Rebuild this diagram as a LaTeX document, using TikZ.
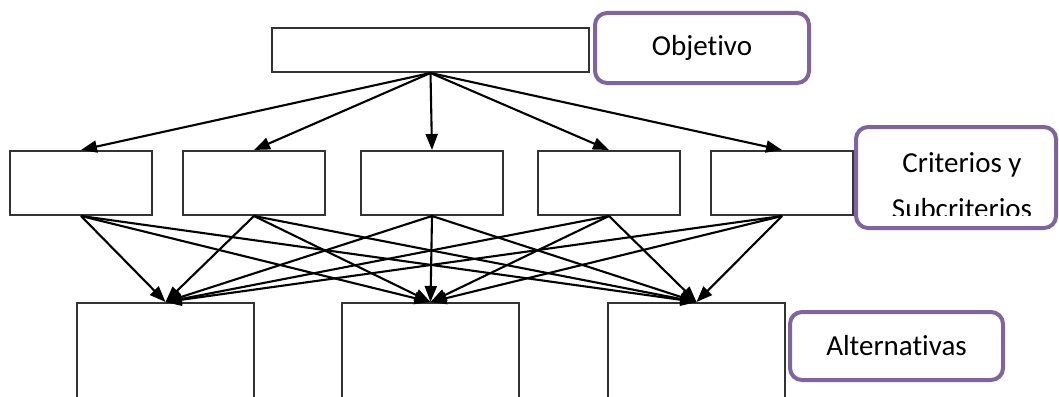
\documentclass[tikz,border=0pt]{standalone}
\usepackage{fontspec}
\setmainfont{Carlito}[Ligatures=NoCommon]
\usetikzlibrary{arrows.meta}
\definecolor{tagpurple}{RGB}{128,100,162}
\tikzset{
    blank/.style={draw=black!80,line width=2pt,inner sep=0pt,fill=white},
    tag/.style={draw=tagpurple,line width=4pt,rounded corners=12pt,inner sep=0pt,align=center,font=\fontsize{29}{46}\selectfont},
    link/.style={line width=2.1pt,-{Triangle[length=16pt,width=12pt]}}
}
\begin{document}
\begin{tikzpicture}[x=1pt,y=-1pt]
        \clip (0,0) rectangle (1059,396);
        %% Goal
        \node[blank,minimum width=317pt,minimum height=44pt] (goal) at (430.5,50) {};
        \node[tag,minimum width=214pt,minimum height=70pt] (goaltag) at (702,48) {Objetivo};
        %% Criteria
        \foreach \x/\n in {81/1,254/2,432/3,609/4,782/5}
            \node[blank,minimum width=142pt,minimum height=64pt] (c\n) at (\x,183) {};
        \node[tag,minimum width=200pt,minimum height=101pt] (crittag) at (956,177.5) {};
        \begin{scope}
            \clip (850,120) rectangle (1059,215);
            \node[font=\fontsize{29}{46}\selectfont,align=center,inner sep=0pt,anchor=north] (crittext) at (962,152) {Criterios y\\Subcriterios};
        \end{scope}
        %% Alternatives
        \foreach \x/\n in {165.5/1,430.5/2,696.5/3}
            \node[blank,minimum width=177pt,minimum height=200pt,anchor=north] (a\n) at (\x,302) {};
        \node[tag,minimum width=213pt,minimum height=68pt] (alttag) at (896.5,346) {Alternativas};
        %% Links
        \foreach \n in {1,...,5}
            \draw[link] (goal.south) -- (c\n.north);
        \foreach \n in {1,...,5}
            \foreach \m in {1,2,3}
                \draw[link] (c\n.south) -- (a\m.north);
\end{tikzpicture}
\end{document}
